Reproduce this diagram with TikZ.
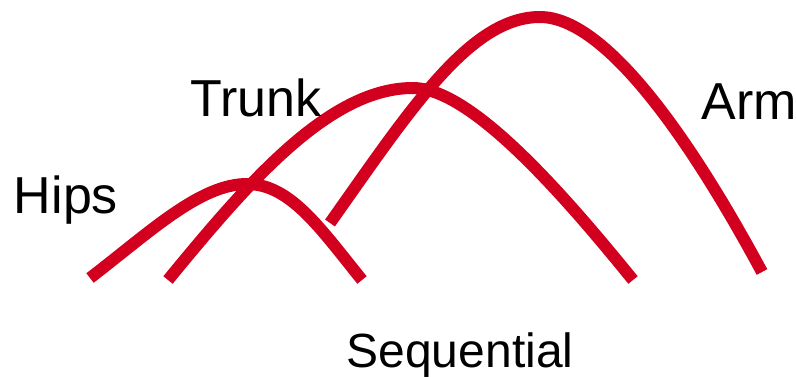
\documentclass[tikz,border=0pt]{standalone}
\usepackage{fontspec}
\setmainfont{Liberation Sans}
\definecolor{curvered}{RGB}{210,0,30}
\begin{document}
\begin{tikzpicture}[x=1pt,y=-1pt,
  arc/.style={draw=curvered,line width=12pt,line cap=butt},
  lbl/.style={anchor=base,inner sep=0pt,font=\fontsize{52}{58}\selectfont}]
\useasboundingbox (0,0) rectangle (796,377);
% curves
\coordinate (h0) at (90,278);
\coordinate (hp) at (247,184);
\coordinate (h1) at (362,280);
\coordinate (t0) at (168,280);
\coordinate (tp) at (413,88);
\coordinate (t1) at (633,280);
\coordinate (a0) at (330,223);
\coordinate (ap) at (540,17);
\coordinate (a1) at (762,272);
\draw[arc] (h0) .. controls (150,232) and (200,184) .. (hp)
                .. controls (290,184) and (320,228) .. (h1);
\draw[arc] (t0) .. controls (250,180) and (330,88) .. (tp)
                .. controls (470,88) and (560,190) .. (t1);
\draw[arc] (a0) .. controls (410,110) and (470,17) .. (ap)
                .. controls (600,17) and (680,120) .. (a1);
% labels
\node[lbl] (hips) at (66,214) {Hips};
\node[lbl] (trunk) at (256,117) {Trunk};
\node[lbl] (arm) at (749,120) {Arm};
\node[lbl,font=\fontsize{48}{54}\selectfont] (seq) at (460,367) {Sequential};
\end{tikzpicture}
\end{document}
